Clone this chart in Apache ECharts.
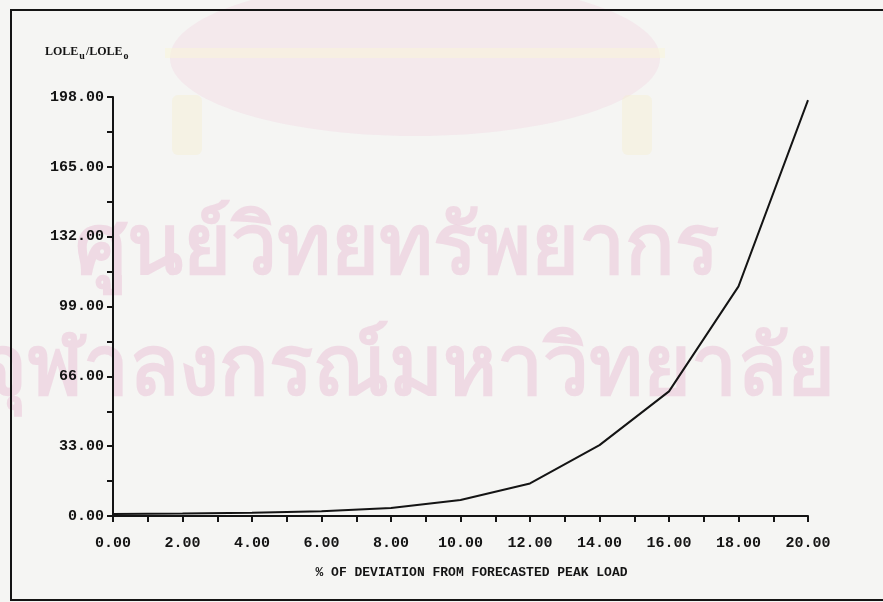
<!DOCTYPE html>
<html>
<head>
<meta charset="utf-8">
<title>LOLE ratio vs deviation from forecasted peak load</title>
<script src="https://cdn.jsdelivr.net/npm/echarts@6/dist/echarts.min.js"></script>
<style>
  html, body { margin: 0; padding: 0; background: #f5f5f3; }
  #chart { width: 883px; height: 602px; }
</style>
</head>
<body>
<div id="chart"></div>
<script>
// % deviation from forecasted peak load
const deviation = [0, 2, 4, 6, 8, 10, 12, 14, 16, 18, 20];
// LOLE_u / LOLE_o ratio at each deviation
const loleRatio = [1.0, 1.2, 1.5, 2.2, 3.8, 7.6, 15.4, 33.5, 58.9, 108.5, 196.5];

const yAxisName = 'LOLE{sub|u}/LOLE{sub|o}';
const xAxisName = '% OF DEVIATION FROM FORECASTED PEAK LOAD';
const watermarkLine1 = 'ศูนย์วิทยทรัพยากร';
const watermarkLine2 = 'จุฬาลงกรณ์มหาวิทยาลัย';

const monoFont = '"Liberation Mono", "DejaVu Sans Mono", monospace';
const ink = '#141414';
const watermarkPink = 'rgba(232, 180, 208, 0.42)';

const chart = echarts.init(document.getElementById('chart'), null, { renderer: 'canvas' });

const option = {
  backgroundColor: '#f5f5f3',
  animation: false,
  grid: { left: 113, right: 75, top: 97, bottom: 86, containLabel: false },
  xAxis: {
    type: 'value',
    min: 0, max: 20, interval: 2,
    name: xAxisName,
    nameLocation: 'middle',
    nameGap: 50,
    nameTextStyle: {
      fontFamily: monoFont, fontWeight: 'bold', fontSize: 13, color: ink,
      padding: [0, 0, 0, 22]
    },
    axisLine: { show: true, onZero: false, lineStyle: { color: ink, width: 2 } },
    axisTick: { show: true, inside: false, length: 6, lineStyle: { color: ink, width: 2 } },
    minorTick: { show: true, splitNumber: 2, length: 6, lineStyle: { color: ink, width: 2 } },
    axisLabel: {
      margin: 20, fontFamily: monoFont, fontWeight: 'bold', fontSize: 15, color: ink,
      formatter: v => v.toFixed(2)
    },
    splitLine: { show: false }
  },
  yAxis: {
    type: 'value',
    min: 0, max: 198, interval: 33,
    axisLine: { show: true, onZero: false, lineStyle: { color: ink, width: 2 } },
    axisTick: { show: true, inside: false, length: 6, lineStyle: { color: ink, width: 2 } },
    minorTick: { show: true, splitNumber: 2, length: 6, lineStyle: { color: ink, width: 2 } },
    axisLabel: {
      margin: 9, fontFamily: monoFont, fontWeight: 'bold', fontSize: 15, color: ink,
      formatter: v => v.toFixed(2)
    },
    splitLine: { show: false }
  },
  graphic: [
    // faint emblem behind the plot
    {
      type: 'ellipse', z: 0, silent: true,
      shape: { cx: 415, cy: 58, rx: 245, ry: 78 },
      style: { fill: 'rgba(240, 200, 220, 0.28)' }
    },
    {
      type: 'rect', z: 0, silent: true,
      shape: { x: 165, y: 48, width: 500, height: 10 },
      style: { fill: 'rgba(250, 245, 215, 0.5)' }
    },
    {
      type: 'rect', z: 0, silent: true,
      shape: { x: 172, y: 95, width: 30, height: 60, r: 6 },
      style: { fill: 'rgba(245, 238, 205, 0.4)' }
    },
    {
      type: 'rect', z: 0, silent: true,
      shape: { x: 622, y: 95, width: 30, height: 60, r: 6 },
      style: { fill: 'rgba(245, 238, 205, 0.4)' }
    },
    // watermark lines
    {
      type: 'text', z: 0, silent: true,
      style: {
        text: watermarkLine1, x: 397, y: 250, align: 'center', verticalAlign: 'middle',
        font: 'bold 82px "Noto Sans", sans-serif', fill: watermarkPink
      }
    },
    {
      type: 'text', z: 0, silent: true,
      style: {
        text: watermarkLine2, x: 835, y: 371, align: 'right', verticalAlign: 'middle',
        font: 'bold 82px "Noto Sans", sans-serif', fill: watermarkPink
      }
    },
    // page frame
    {
      type: 'rect', z: 10, silent: true,
      shape: { x: 11, y: 10, width: 900, height: 590 },
      style: { fill: 'none', stroke: ink, lineWidth: 2 }
    },
    // y-axis title with subscripts
    {
      type: 'text', z: 10, silent: true,
      style: {
        text: yAxisName, x: 45, y: 52, verticalAlign: 'middle',
        fontFamily: '"Liberation Serif", serif', fontWeight: 'bold', fontSize: 12, fill: ink,
        rich: {
          sub: {
            fontFamily: '"Liberation Serif", serif', fontWeight: 'bold', fontSize: 10,
            fill: ink, padding: [9, 1, 0, 1]
          }
        }
      }
    }
  ],
  series: [
    {
      type: 'line',
      data: deviation.map((d, i) => [d, loleRatio[i]]),
      showSymbol: false,
      smooth: false,
      lineStyle: { color: ink, width: 2 },
      z: 5
    }
  ]
};

chart.setOption(option);
</script>
</body>
</html>
